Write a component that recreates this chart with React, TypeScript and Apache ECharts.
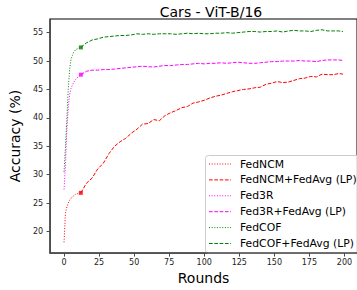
import React, { useEffect, useRef } from "react";
import * as echarts from "echarts";

const title = "Cars - ViT-B/16";
const xName = "Rounds";
const yName = "Accuracy (%)";
const xTicks = [0, 25, 50, 75, 100, 125, 150, 175, 200];
const yTicks = [20, 25, 30, 35, 40, 45, 50, 55];

// Local (pre-federated) phase, rounds 0..12
const initRounds = [0, 1, 2, 3, 4, 5, 6, 7, 8, 9, 10, 11, 12];
const fedNCM = [18.1, 23.2, 24.3, 25.0, 25.5, 25.9, 26.1, 26.3, 26.5, 26.6, 26.7, 26.8, 26.8];
const fed3R = [27.4, 31.5, 37.8, 41.8, 44.1, 45.2, 45.8, 46.3, 46.7, 46.9, 47.2, 47.4, 47.6];
const fedCOF = [30.5, 34.8, 39.8, 45.0, 48.6, 50.3, 51.0, 51.6, 51.9, 52.1, 52.2, 52.3, 52.4];

// Fine-tuning phase (FedAvg LP), rounds 12..199
const lpRounds = [12, 16, 20, 24, 28, 32, 36, 40, 44, 48, 52, 56, 60, 64, 68, 72, 76, 80, 84, 88, 92, 96, 100, 104, 108, 112, 116, 120, 124, 128, 132, 136, 140, 144, 148, 152, 156, 160, 164, 168, 172, 176, 180, 184, 188, 192, 196, 199];
const fedNCMLP = [26.8, 28.5, 29.4, 31.0, 32.0, 33.7, 35.0, 35.8, 36.4, 37.3, 38.0, 38.9, 39.0, 39.7, 39.5, 40.4, 40.9, 41.3, 41.8, 42.0, 42.6, 42.8, 43.1, 43.5, 43.8, 44.0, 44.3, 44.6, 44.8, 45.0, 45.1, 45.3, 45.4, 45.9, 46.1, 46.4, 46.2, 46.3, 46.6, 46.9, 47.0, 47.3, 47.2, 47.7, 47.6, 47.6, 47.8, 47.7];
const fed3RLP = [47.6, 48.2, 48.4, 48.4, 48.5, 48.5, 48.6, 48.7, 48.8, 48.9, 49.0, 49.1, 49.0, 48.95, 49.1, 49.2, 49.2, 49.3, 49.4, 49.4, 49.5, 49.6, 49.5, 49.6, 49.6, 49.7, 49.6, 49.7, 49.8, 49.7, 49.6, 49.6, 49.7, 49.8, 49.9, 49.9, 50.0, 50.0, 50.0, 50.1, 50.0, 50.0, 49.9, 50.1, 50.2, 50.2, 50.2, 50.1];
const fedCOFLP = [52.4, 53.2, 53.7, 53.9, 54.2, 54.3, 54.4, 54.5, 54.5, 54.6, 54.8, 54.7, 54.8, 54.7, 54.8, 54.8, 54.8, 54.7, 54.8, 54.9, 54.8, 54.9, 54.8, 54.8, 54.9, 54.9, 55.0, 54.9, 55.0, 55.1, 55.2, 55.2, 55.1, 55.2, 55.2, 55.3, 55.1, 55.3, 55.4, 55.3, 55.3, 55.2, 55.4, 55.5, 55.3, 55.3, 55.3, 55.2];

const names = ["FedNCM", "FedNCM+FedAvg (LP)", "Fed3R", "Fed3R+FedAvg (LP)", "FedCOF", "FedCOF+FedAvg (LP)"];
const colors = ["#ff0000", "#ff0000", "#ff00ff", "#ff00ff", "#008000", "#008000"];

const FONT = "DejaVu Sans";
const DOTTED = [1, 1.65];
const DASHED = [3.7, 1.6];

function pairs(xs: number[], ys: number[]) {
  return xs.map((x, i) => [x, ys[i]]);
}

export default function App() {
  const ref = useRef<HTMLDivElement>(null);
  useEffect(() => {
    if (!ref.current) return;
    const chart = echarts.init(ref.current, null, { renderer: "svg" });
    const seriesData = [
      pairs(initRounds, fedNCM),
      pairs(lpRounds, fedNCMLP),
      pairs(initRounds, fed3R),
      pairs(lpRounds, fed3RLP),
      pairs(initRounds, fedCOF),
      pairs(lpRounds, fedCOFLP),
    ];
    const lineType = (i: number) => (i % 2 === 0 ? DOTTED : DASHED);
    const lines: any[] = seriesData.map((d, i) => ({
      name: names[i],
      type: "line",
      data: d,
      symbol: "none",
      color: colors[i],
      lineStyle: { color: colors[i], width: 1, type: lineType(i) },
      z: 2,
    }));
    const markers: any[] = [1, 3, 5].map((i) => ({
      name: "marker" + i,
      type: "scatter",
      data: [seriesData[i][0]],
      symbol: "rect",
      symbolSize: 4,
      itemStyle: { color: colors[i] },
      z: 3,
    }));

    // matplotlib-style legend box (upper-left at 205,155)
    const legendX = 205;
    const legendY = 155;
    const rowH = 15.9;
    const legendChildren: any[] = [
      {
        type: "rect",
        shape: { x: legendX + 0.5, y: legendY + 0.5, width: 170, height: 98, r: 3 },
        style: { fill: "rgba(255,255,255,0.8)", stroke: "#cccccc", lineWidth: 1 },
      },
    ];
    names.forEach((n, i) => {
      const cy = legendY + 9 + rowH * i;
      legendChildren.push({
        type: "line",
        shape: { x1: legendX + 4, y1: cy, x2: legendX + 26, y2: cy },
        style: { stroke: colors[i], lineWidth: 1, lineDash: lineType(i) },
      });
      legendChildren.push({
        type: "text",
        x: legendX + 35,
        y: cy,
        style: {
          text: n,
          fontFamily: FONT,
          fontSize: 10.8,
          fill: "#000",
          verticalAlign: "middle",
          align: "left",
        },
      });
    });

    const axisGray = "#4a4a4a";
    chart.setOption({
      animation: false,
      title: {
        text: title,
        left: 206,
        textAlign: "center",
        top: 0,
        textStyle: { fontFamily: FONT, fontSize: 14, fontWeight: "normal", color: "#000" },
      },
      grid: {
        left: 44,
        top: 19,
        width: 324,
        height: 240,
        show: true,
        borderColor: "#000",
        borderWidth: 1,
        containLabel: false,
      },
      graphic: [{ type: "group", z: 100, children: legendChildren }],
      xAxis: {
        type: "value",
        min: -9.95,
        max: 208.95,
        name: xName,
        nameLocation: "middle",
        nameGap: 15,
        nameTextStyle: { fontFamily: FONT, fontSize: 14, color: "#000" },
        axisLine: { show: true, onZero: false, lineStyle: { color: axisGray, width: 1.6 } },
        axisTick: { show: true, length: 3.5, lineStyle: { color: axisGray }, customValues: xTicks },
        axisLabel: { fontFamily: FONT, fontSize: 8, color: "#222", margin: 5, customValues: xTicks },
        splitLine: { show: false },
      },
      yAxis: {
        type: "value",
        min: 16.2,
        max: 57.4,
        name: yName,
        nameLocation: "middle",
        nameGap: 20,
        nameTextStyle: { fontFamily: FONT, fontSize: 14, color: "#000" },
        axisLine: { show: true, onZero: false, lineStyle: { color: axisGray, width: 1.6 } },
        axisTick: { show: true, length: 3.5, lineStyle: { color: axisGray }, customValues: yTicks },
        axisLabel: { fontFamily: FONT, fontSize: 8, color: "#222", margin: 7, customValues: yTicks },
        splitLine: { show: false },
      },
      series: [...lines, ...markers],
    });
    return () => chart.dispose();
  }, []);
  return (
    <div
      ref={ref}
      style={{ position: "fixed", left: 0, top: 0, width: 357, height: 290, background: "#fff" }}
    />
  );
}
